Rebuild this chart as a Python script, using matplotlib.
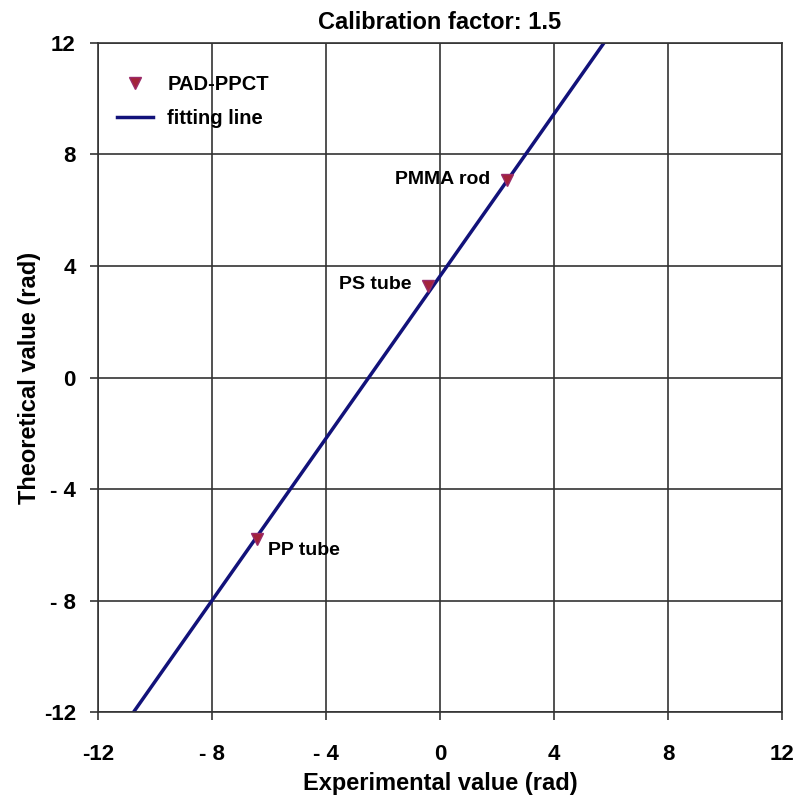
import matplotlib
matplotlib.use("Agg")
from matplotlib import pyplot as plt

plt.rcParams['font.family'] = ['Liberation Sans', 'DejaVu Sans']
plt.rcParams['font.weight'] = 'bold'

# data
sample_names = ["PMMA rod", "PS tube", "PP tube"]
experimental = [2.34, -0.42, -6.42]
theoretical = [7.09, 3.29, -5.81]

fit_x = [-10.75, 5.75]
fit_y = [-12, 12]

ticks = [-12, -8, -4, 0, 4, 8, 12]
tick_labels = ["-12", "- 8", "- 4", "0", "4", "8", "12"]

fig = plt.figure(figsize=(7.98, 7.96), dpi=100)
ax = fig.add_axes([0.1228, 0.1055, 0.8572, 0.8405])

ax.plot(experimental, theoretical, linestyle='none', marker='v', markersize=8,
        color='#a3233a', markeredgecolor='#9a2a6a', label='PAD-PPCT', zorder=3)
ax.plot(fit_x, fit_y, color='#12127a', linewidth=2.5, label='fitting line', zorder=2)

# point labels
ax.annotate(sample_names[0], (experimental[0], theoretical[0]), xytext=(-12, 0),
            textcoords='offset points', ha='right', va='center', fontsize=14)
ax.annotate(sample_names[1], (experimental[1], theoretical[1]), xytext=(-12, 1),
            textcoords='offset points', ha='right', va='center', fontsize=14)
ax.annotate(sample_names[2], (experimental[2], theoretical[2]), xytext=(8, -8),
            textcoords='offset points', ha='left', va='center', fontsize=14)

ax.set_xlim(-12, 12)
ax.set_ylim(-12, 12)
ax.set_xticks(ticks)
ax.set_yticks(ticks)
ax.set_xticklabels(tick_labels)
ax.set_yticklabels(tick_labels)
ax.tick_params(axis='both', direction='out', length=6, width=1.2, color='#333333',
               labelsize=16)
ax.tick_params(axis='x', pad=17)
ax.tick_params(axis='y', pad=10)

ax.grid(True, color='#333333', linewidth=1.2)
ax.set_axisbelow(True)
for s in ax.spines.values():
    s.set_color('#333333')
    s.set_linewidth(1.2)

ax.set_xlabel("Experimental value (rad)", fontsize=17, fontweight='bold', labelpad=5)
ax.set_ylabel("Theoretical value (rad)", fontsize=17, fontweight='bold', labelpad=2)
ax.set_title("Calibration factor: 1.5", fontsize=17, fontweight='bold', pad=10)

leg = ax.legend(loc='upper left', bbox_to_anchor=(0.016, 0.964), frameon=False,
                fontsize=14.5, handlelength=1.8, handletextpad=0.7,
                labelspacing=0.75, borderaxespad=0)
leg.get_texts()[0].set_fontweight('bold')

fig.savefig("out.png", dpi=100)
